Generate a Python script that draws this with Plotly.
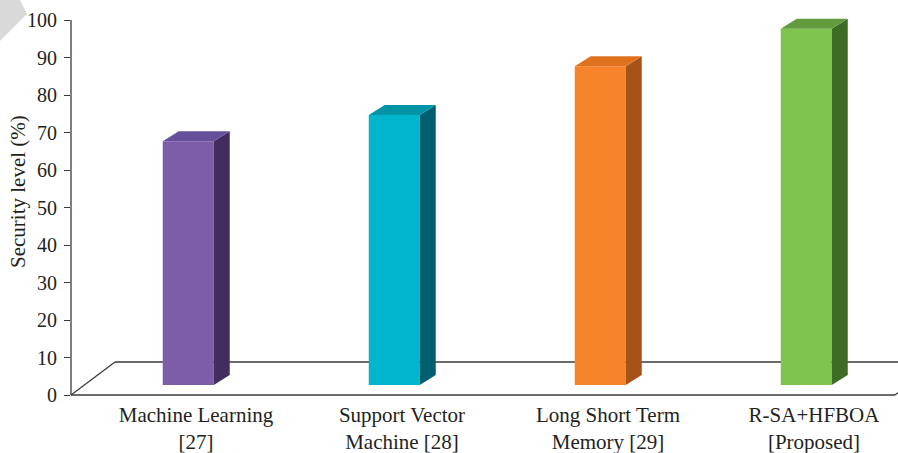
import plotly.graph_objects as go

# ---- data ----
categories = ["Machine Learning<br>[27]", "Support Vector<br>Machine [28]",
              "Long Short Term<br>Memory [29]", "R-SA+HFBOA<br>[Proposed]"]
security_level = [65, 72, 85, 95]
y_ticks = [0, 10, 20, 30, 40, 50, 60, 70, 80, 90, 100]

front_colors = ["#7B5EA7", "#00B5CC", "#F5842A", "#7EC44F"]
top_colors = ["#66509A", "#0094A6", "#E0721F", "#629A3E"]
side_colors = ["#432D5E", "#005F6E", "#A65219", "#3E6B26"]

# ---- geometry (pixel-based layout helpers) ----
W, H = 898, 453
ML, MR, MT, MB = 71, 0, 9, 56
PX_X = 206.0          # px per category slot
PX_Y = 3.75           # px per y unit
x_lo = -0.5
x_hi = x_lo + (W - ML - MR) / PX_X
y_lo = -(H - MB - 395) / PX_Y
y_hi = 100 + (20 - MT) / PX_Y

off_x = 14.25 / PX_X      # bar front offset into depth
off_y = 10 / PX_Y
bar_w = 51 / PX_X
dep_x = 16 / PX_X         # bar depth
dep_y = 10 / PX_Y
floor_dx = 44 / PX_X
floor_dy = 33 / PX_Y
label_dx = 22 / PX_X

fig = go.Figure()

for i, v in enumerate(security_level):
    xl = i + off_x - bar_w / 2
    xr = i + off_x + bar_w / 2
    b = off_y
    t = off_y + v
    # front face
    fig.add_trace(go.Scatter(x=[xl, xr, xr, xl, xl], y=[b, b, t, t, b], fill="toself",
                             mode="lines", line=dict(width=0), fillcolor=front_colors[i],
                             hoverinfo="skip", showlegend=False))
    # side face
    fig.add_trace(go.Scatter(x=[xr, xr + dep_x, xr + dep_x, xr, xr],
                             y=[b, b + dep_y, t + dep_y, t, b], fill="toself",
                             mode="lines", line=dict(width=0), fillcolor=side_colors[i],
                             hoverinfo="skip", showlegend=False))
    # top face
    fig.add_trace(go.Scatter(x=[xl, xr, xr + dep_x, xl + dep_x, xl],
                             y=[t, t, t + dep_y, t + dep_y, t], fill="toself",
                             mode="lines", line=dict(width=0), fillcolor=top_colors[i],
                             hoverinfo="skip", showlegend=False))

line_col = "#3a3a3a"
shapes = [
    dict(type="line", xref="x", yref="y", x0=x_lo, y0=0, x1=x_lo + 4, y1=0,
         line=dict(color=line_col, width=1.3), layer="below"),
    dict(type="line", xref="x", yref="y", x0=x_lo + floor_dx, y0=floor_dy,
         x1=x_lo + 4 + floor_dx, y1=floor_dy, line=dict(color=line_col, width=1.3), layer="below"),
    dict(type="line", xref="x", yref="y", x0=x_lo, y0=0, x1=x_lo + floor_dx, y1=floor_dy,
         line=dict(color=line_col, width=1.3), layer="below"),
    dict(type="line", xref="x", yref="y", x0=x_lo + 4, y0=0, x1=x_lo + 4 + floor_dx, y1=floor_dy,
         line=dict(color=line_col, width=1.3), layer="below"),
    dict(type="line", xref="paper", yref="y", x0=0, y0=0, x1=0, y1=100,
         line=dict(color=line_col, width=1.3)),
]

def px2paper(px, py):
    return ((px - ML) / (W - ML - MR), 1 - (py - MT) / (H - MT - MB))

pts = [px2paper(0, 0), px2paper(20, 0), px2paper(27, 14), px2paper(0, 41)]
path = "M " + " L ".join(f"{a:.4f},{b:.4f}" for a, b in pts) + " Z"
shapes.append(dict(type="path", xref="paper", yref="paper", path=path,
                   fillcolor="#d9d9d9", line=dict(width=0), layer="below"))

font_family = "Liberation Serif"

fig.update_layout(
    width=W, height=H,
    margin=dict(l=ML, r=MR, t=MT, b=MB),
    plot_bgcolor="white", paper_bgcolor="white",
    shapes=shapes,
    font=dict(family=font_family, size=20, color="#231f20"),
    xaxis=dict(range=[x_lo, x_hi], showgrid=False, zeroline=False, showline=False,
               tickmode="array", tickvals=[i + label_dx for i in range(len(categories))],
               ticktext=categories, ticks="", tickfont=dict(family=font_family, size=21),
               ticklabelstandoff=3),
    yaxis=dict(range=[y_lo, y_hi], showgrid=False, zeroline=False, showline=False,
               tickmode="array", tickvals=y_ticks, ticks="outside", ticklen=6,
               tickcolor=line_col, tickwidth=1.3, tickfont=dict(family=font_family, size=20),
               ticklabelstandoff=3),
    annotations=[dict(text="Security level (%)", textangle=-90, xref="paper", yref="paper",
                      x=px2paper(18, 0)[0], y=px2paper(0, 192)[1], xanchor="center",
                      yanchor="middle", showarrow=False,
                      font=dict(family=font_family, size=21))],
)

fig.write_html("out.html")
